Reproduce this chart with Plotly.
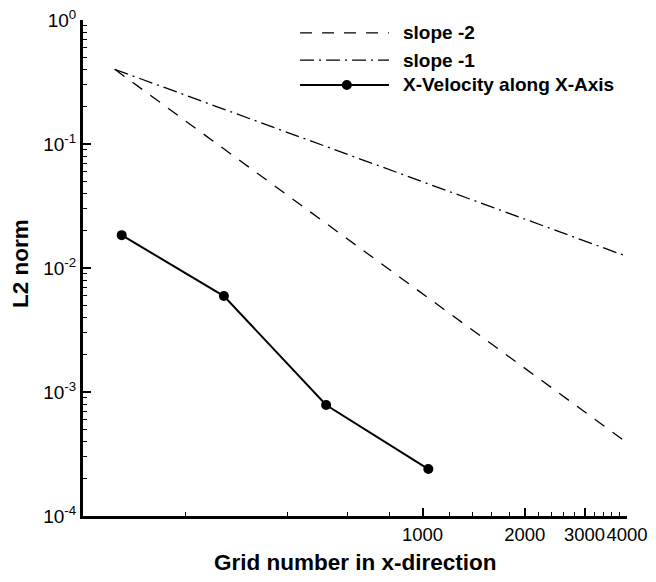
import plotly.graph_objects as go

# Data
grid_x = [130, 260, 520, 1040]
l2_norm = [0.0184, 0.00594, 0.000785, 0.000239]

slope_x = [124, 4000]
slope2_y = [0.40, 0.00039]
slope1_y = [0.40, 0.0124]

legend_names = ["slope -2", "slope -1", "X-Velocity along X-Axis"]

x_major = [1000, 2000, 3000, 4000]
x_major_text = ["1000", "2000", "3000", "4000"]
x_minor = [200, 400, 600, 800, 1200, 1400, 1600, 1800,
           2200, 2400, 2600, 2800, 3200, 3400, 3600, 3800]
y_major = [1e-4, 1e-3, 1e-2, 1e-1, 1e0]
y_major_text = ["10<sup>-4</sup>", "10<sup>-3</sup>", "10<sup>-2</sup>",
                "10<sup>-1</sup>", "10<sup>0</sup>"]
y_minor = [m * 10 ** e for e in range(-4, 0) for m in range(2, 10)]

FONT = "Liberation Sans, Arial, Helvetica, sans-serif"

fig = go.Figure()
fig.add_trace(go.Scatter(x=slope_x, y=slope2_y, mode="lines", name=legend_names[0],
                         line=dict(color="black", width=1.3, dash="12px,10px"),
                         showlegend=False))
fig.add_trace(go.Scatter(x=slope_x, y=slope1_y, mode="lines", name=legend_names[1],
                         line=dict(color="black", width=1.3, dash="14px,5px,2px,5px"),
                         showlegend=False))
fig.add_trace(go.Scatter(x=grid_x, y=l2_norm, mode="lines+markers", name=legend_names[2],
                         line=dict(color="black", width=2),
                         marker=dict(color="black", size=10, symbol="circle"),
                         showlegend=False))

# Custom legend (paper coordinates)
leg_x0, leg_x1, leg_mid, leg_text = 0.399, 0.5625, 0.485, 0.585
leg_rows = [0.974, 0.919, 0.869]
dashes = ["12px,10px", "14px,5px,2px,5px", "solid"]
widths = [1.3, 1.3, 2]
shapes = []
annotations = []
for name, yy, d, w in zip(legend_names, leg_rows, dashes, widths):
    shapes.append(dict(type="line", xref="paper", yref="paper",
                       x0=leg_x0, x1=leg_x1, y0=yy, y1=yy,
                       line=dict(color="black", width=w, dash=d)))
    annotations.append(dict(xref="paper", yref="paper", x=leg_text, y=yy,
                            text="<b>%s</b>" % name, showarrow=False,
                            xanchor="left", yanchor="middle",
                            font=dict(family=FONT, size=19, color="black")))
r = 0.0092
shapes.append(dict(type="circle", xref="paper", yref="paper",
                   x0=leg_mid - r, x1=leg_mid + r,
                   y0=leg_rows[2] - r * 544 / 496, y1=leg_rows[2] + r * 544 / 496,
                   fillcolor="black", line=dict(color="black", width=0)))

# Axis titles as annotations
annotations.append(dict(xref="paper", yref="paper", x=0.5, y=-0.094,
                        text="<b>Grid number in x-direction</b>", showarrow=False,
                        xanchor="center", yanchor="middle",
                        font=dict(family=FONT, size=22.5, color="black")))
annotations.append(dict(xref="paper", yref="paper", x=-0.116, y=0.51,
                        text="<b>L2 norm</b>", showarrow=False, textangle=-90,
                        xanchor="center", yanchor="middle",
                        font=dict(family=FONT, size=22.5, color="black")))

fig.update_layout(
    width=648, height=566,
    margin=dict(l=75, r=29, t=12, b=58, autoexpand=False),
    paper_bgcolor="white", plot_bgcolor="white",
    font=dict(family=FONT, color="black", size=19),
    shapes=shapes, annotations=annotations,
    showlegend=False,
)
fig.update_xaxes(
    type="log", range=[2, 3.60206], automargin=False,
    ticklabeloverflow="allow", tickangle=0,
    tickmode="array", tickvals=x_major, ticktext=x_major_text,
    ticks="inside", ticklen=8, tickwidth=1.5, tickcolor="black",
    showline=True, linecolor="black", linewidth=3, mirror=False,
    showgrid=False, zeroline=False,
    tickfont=dict(size=18.5),
    minor=dict(tickmode="array", tickvals=x_minor, ticks="inside", ticklen=4,
               tickwidth=1.2, tickcolor="black", showgrid=False),
)
fig.update_yaxes(
    type="log", range=[-4, 0], automargin=False,
    ticklabeloverflow="allow",
    tickmode="array", tickvals=y_major, ticktext=y_major_text,
    ticks="inside", ticklen=8, tickwidth=1.5, tickcolor="black",
    showline=True, linecolor="black", linewidth=3, mirror=False,
    showgrid=False, zeroline=False,
    tickfont=dict(size=19),
    minor=dict(tickmode="array", tickvals=y_minor, ticks="inside", ticklen=4,
               tickwidth=1.2, tickcolor="black", showgrid=False),
)

fig.write_html("out.html")
